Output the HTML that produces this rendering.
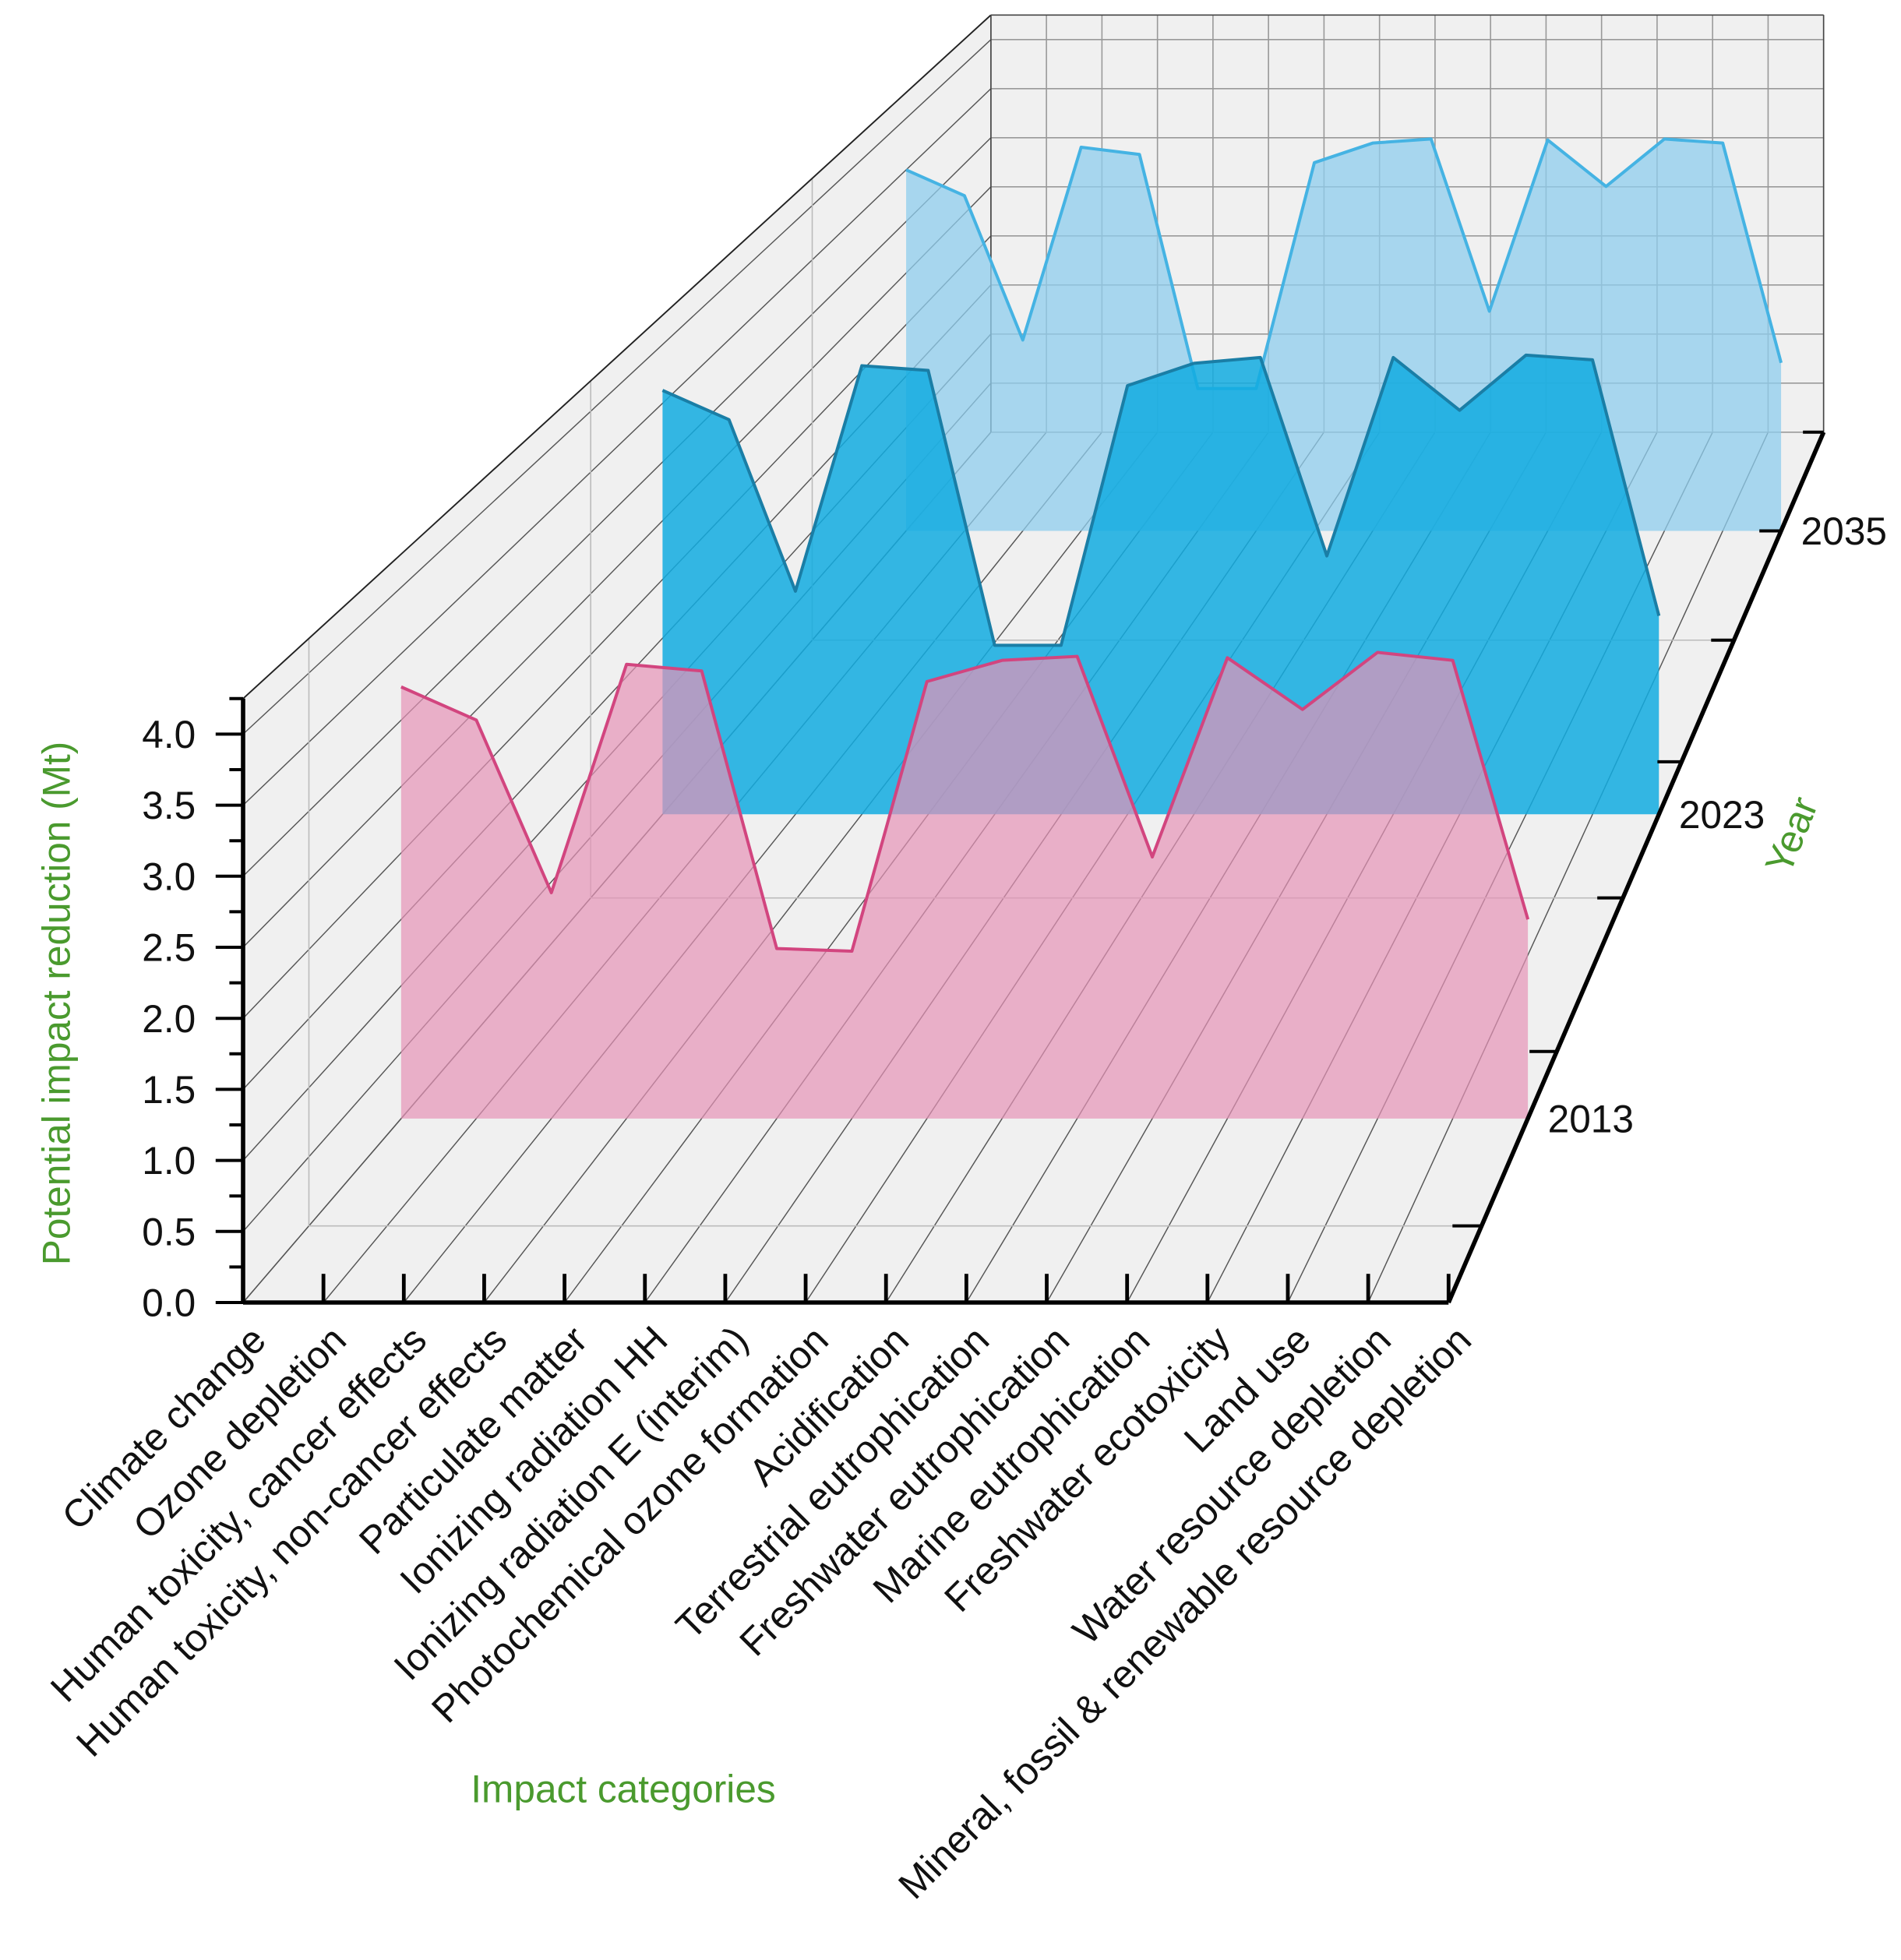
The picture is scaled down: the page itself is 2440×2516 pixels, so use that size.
<!DOCTYPE html>
<html><head><meta charset="utf-8"><style>
html,body{margin:0;padding:0;background:#fff;}
svg{display:block;}
text{font-family:"Liberation Sans",Arial,sans-serif;}
</style></head><body>
<svg id="chart" width="2440" height="2516" viewBox="0 0 1525 1572.5" xmlns="http://www.w3.org/2000/svg">
<g id="walls"></g>
<g id="grid"></g>
<g id="series"></g>
<g id="axes"></g>
<text x="500" y="1446" font-size="31" fill="#4a9a2e" text-anchor="middle">Impact categories</text>
<text transform="translate(56,805) rotate(-90)" font-size="31" fill="#4a9a2e" text-anchor="middle">Potential impact reduction (Mt)</text>
<text transform="translate(1447,674) rotate(-68)" font-size="31" fill="#4a9a2e" text-anchor="middle">Year</text>
</svg>
<script>
const categories = ["Climate change","Ozone depletion","Human toxicity, cancer effects","Human toxicity, non-cancer effects","Particulate matter","Ionizing radiation HH","Ionizing radiation E (interim)","Photochemical ozone formation","Acidification","Terrestrial eutrophication","Freshwater eutrophication","Marine eutrophication","Freshwater ecotoxicity","Land use","Water resource depletion","Mineral, fossil & renewable resource depletion"];
const years = [2013, 2023, 2035];
const values2013 = [3.25,3.00,1.70,3.42,3.37,1.28,1.26,3.29,3.45,3.48,1.97,3.47,3.08,3.51,3.45,1.50];
const values2023 = [3.61,3.36,1.90,3.82,3.78,1.44,1.44,3.65,3.84,3.89,2.20,3.89,3.44,3.91,3.87,1.69];
const values2035 = [3.50,3.25,1.85,3.72,3.65,1.38,1.38,3.57,3.76,3.80,2.13,3.79,3.34,3.80,3.76,1.63];
const yTicks = [0,0.5,1,1.5,2,2.5,3,3.5,4];
const yearGrid = [2010,2020,2030];
const yearTicks = [2010,2015,2020,2025,2030,2035,2040];

const NS="http://www.w3.org/2000/svg";
const X0=195, DX=64.47, Y0=1045, PXU=114, VPX=2135, VPY=-1213, YEAR0=2008, K=0.01399, ZMAX=4.25, YMAX=2040;
function sc(yr){return 1/(1+K*(yr-YEAR0));}
function P(i,v,yr){const s=sc(yr);const fx=X0+DX*i, fy=Y0-PXU*v;return [VPX+(fx-VPX)*s, VPY+(fy-VPY)*s];}
function mk(parent,tag,attrs){const e=document.createElementNS(NS,tag);for(const k in attrs)e.setAttribute(k,attrs[k]);document.getElementById(parent).appendChild(e);return e;}
function pts(a){return a.map(p=>p[0].toFixed(1)+","+p[1].toFixed(1)).join(" ");}
const N=categories.length-1;
const YMIN=YEAR0;

let w;
w=mk('walls','polygon',{points:pts([P(0,0,YMIN),P(N,0,YMIN),P(N,0,YMAX),P(0,0,YMAX)]),fill:'#f0f0f0'});


w=mk('walls','polygon',{points:pts([P(0,0,YMIN),P(0,ZMAX,YMIN),P(0,ZMAX,YMAX),P(0,0,YMAX)]),fill:'#f0f0f0'});


w=mk('walls','polygon',{points:pts([P(0,0,YMAX),P(N,0,YMAX),P(N,ZMAX,YMAX),P(0,ZMAX,YMAX)]),fill:'#f0f0f0'});



function gl(a,b,col,wd,name){const l=mk('grid','line',{x1:a[0],y1:a[1],x2:b[0],y2:b[1],stroke:col,'stroke-width':wd});

}
categories.forEach((c,i)=>gl(P(i,0,YMIN),P(i,0,YMAX),'#555',0.9,'floor-grid-line'));
categories.forEach((c,i)=>gl(P(i,0,YMAX),P(i,ZMAX,YMAX),'#999',1,'back-grid-line'));
yTicks.forEach(v=>{gl(P(0,v,YMIN),P(0,v,YMAX),'#555',0.9,'left-grid-line');gl(P(0,v,YMAX),P(N,v,YMAX),'#999',1,'back-grid-line');});
yearGrid.forEach(y=>{gl(P(0,0,y),P(N,0,y),'#bbb',1,'floor-year-line');gl(P(0,0,y),P(0,ZMAX,y),'#bbb',1,'left-year-line');});
gl(P(0,ZMAX,YMIN),P(0,ZMAX,YMAX),'#222',1.2,'left-wall-edge');
gl(P(0,ZMAX,YMAX),P(N,ZMAX,YMAX),'#444',1,'back-wall-edge');
gl(P(N,ZMAX,YMAX),P(N,0,YMAX),'#444',1,'back-wall-edge');
gl(P(0,ZMAX,YMAX),P(0,0,YMAX),'#444',1,'back-wall-edge');

const seriesDefs=[
 {vals:values2035,yr:years[2],fill:'#8fcdee',op:0.75,stroke:'#45b3e3',name:'2035'},
 {vals:values2023,yr:years[1],fill:'#12ace0',op:0.85,stroke:'#1a7ea6',name:'2023'},
 {vals:values2013,yr:years[0],fill:'#e693b7',op:0.7,stroke:'#d2457f',name:'2013'}];
seriesDefs.forEach(sd=>{
  const top=sd.vals.map((v,i)=>P(i,v,sd.yr));
  const poly=[P(0,0,sd.yr)].concat(top).concat([P(N,0,sd.yr)]);
  const a=mk('series','polygon',{points:pts(poly),fill:sd.fill,'fill-opacity':sd.op});
  
  
  const l=mk('series','polyline',{points:pts(top),fill:'none',stroke:sd.stroke,'stroke-width':2.5,'stroke-linejoin':'round'});
  
  
});

function al(a,b,wd,name){const l=mk('axes','line',{x1:a[0],y1:a[1],x2:b[0],y2:b[1],stroke:'#000','stroke-width':wd});

}
al(P(0,0,YMIN),P(0,ZMAX,YMIN),3.5,'y-axis-line');
al(P(0,0,YMIN),P(N,0,YMIN),3.5,'x-axis-line');
al(P(N,0,YMIN),P(N,0,YMAX),3.5,'year-axis-line');
for(let v=0;v<=4.25;v+=0.25){const p=P(0,v,YMIN);const major=Math.abs(v*2-Math.round(v*2))<1e-6;
  al([p[0]-(major?22:11),p[1]],p,2.5,major?'y-major-tick':'y-minor-tick');}
yTicks.forEach(v=>{const p=P(0,v,YMIN);const t=mk('axes','text',{x:p[0]-38,y:p[1]+11,'font-size':31,'text-anchor':'end',fill:'#111'});t.textContent=v.toFixed(1);
  
  });
categories.forEach((c,i)=>{const p=P(i,0,YMIN);al([p[0],p[1]-23],p,3,'x-tick');
  const t=mk('axes','text',{transform:`translate(${p[0]+20},${p[1]+32}) rotate(-45)`,'font-size':31,'text-anchor':'end',fill:'#111'});t.textContent=c;
  
  });
yearTicks.forEach(y=>{const p=P(N,0,y);al([p[0]-24*sc(y),p[1]],p,2.5,'year-tick');});
years.forEach(y=>{const p=P(N,0,y);const t=mk('axes','text',{x:p[0]+16,y:p[1]+11,'font-size':31,fill:'#111'});t.textContent=y;
  
  });
</script>
</body></html>
